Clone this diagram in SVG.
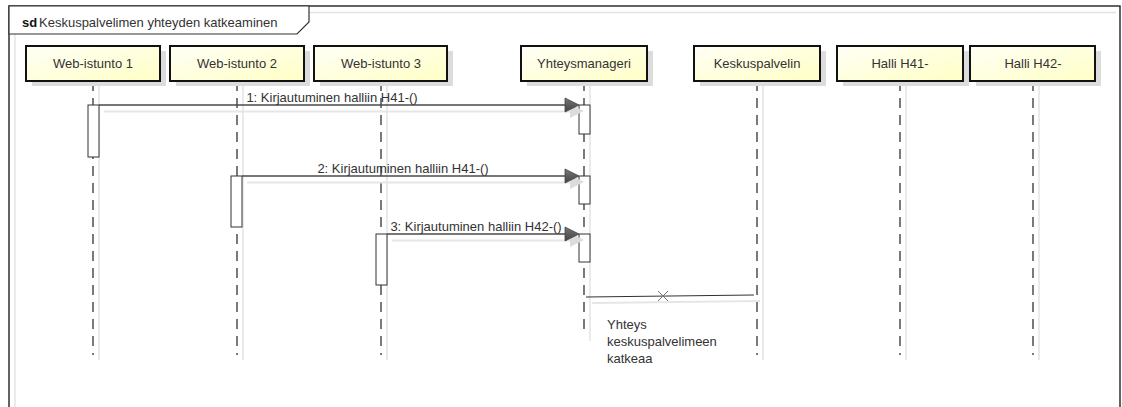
<svg xmlns="http://www.w3.org/2000/svg" width="1122" height="407" viewBox="0 0 1122 407">
  <style>
    text { font-family: "Liberation Sans", Arial, sans-serif; font-size: 13px; fill: #333; }
    .lbl { text-anchor: middle; }
    .box { fill: url(#boxFill); stroke: #111; stroke-width: 2; }
    .boxShadow { fill: #dcdcdc; }
    .life { stroke: #333; stroke-width: 1.3; stroke-dasharray: 10 7; fill: none; }
    .lifeShadow { stroke: #e4e4e4; stroke-width: 1.5; fill: none; }
    .act { fill: #fff; stroke: #333; stroke-width: 1; }
    .msg { stroke: #4a4a4a; stroke-width: 1.4; fill: none; }
    .msgShadow { stroke: #e6e6e6; stroke-width: 2; fill: none; }
    .head { fill: url(#headFill); stroke: #444; stroke-width: 0.8; }
    .headShadow { fill: #dcdcdc; }
  </style>
  <defs>
    <linearGradient id="boxFill" x1="0" y1="0" x2="1" y2="1">
      <stop offset="0" stop-color="#fffff6"/>
      <stop offset="1" stop-color="#ffffc6"/>
    </linearGradient>
    <linearGradient id="headFill" x1="0" y1="0" x2="0" y2="1">
      <stop offset="0" stop-color="#777"/>
      <stop offset="1" stop-color="#444"/>
    </linearGradient>
  </defs>

  <rect width="1122" height="407" fill="#fff"/>

  <!-- frame -->
  <g id="frame">
    <rect x="9" y="6" width="1111" height="420" fill="#fff" stroke="#222" stroke-width="1.4"/>
    <path d="M15 420 V12.5 H1116" fill="none" stroke="#e2e2e2" stroke-width="1.3"/>
    <path d="M9 6 H309 V22 L297 34 H9 Z" fill="#fff" stroke="#333" stroke-width="1.2"/>
    <text x="22" y="26.5"><tspan font-weight="bold" fill="#111">sd</tspan><tspan x="39">Keskuspalvelimen yhteyden katkeaminen</tspan></text>
  </g>

  <!-- lifelines -->
  <g id="lifelines">
    <path class="lifeShadow" d="M99 86 V360 M243 86 V360 M387 86 V360 M590 86 V341 M763 86 V360 M906 86 V360 M1039 86 V360"/>
    <path class="life" d="M93 81 V355 M237 81 V355 M381 81 V355 M584 81 V335 M757 81 V355 M900 81 V355 M1033 81 V355"/>
  </g>

  <!-- participants -->
  <g id="web-istunto-1">
    <rect class="boxShadow" x="32" y="51" width="134" height="35"/>
    <rect class="box" x="26" y="46" width="134" height="35"/>
    <text class="lbl" x="93" y="68">Web-istunto 1</text>
  </g>
  <g id="web-istunto-2">
    <rect class="boxShadow" x="176" y="51" width="134" height="35"/>
    <rect class="box" x="170" y="46" width="134" height="35"/>
    <text class="lbl" x="237" y="68">Web-istunto 2</text>
  </g>
  <g id="web-istunto-3">
    <rect class="boxShadow" x="320" y="51" width="133" height="35"/>
    <rect class="box" x="314" y="46" width="133" height="35"/>
    <text class="lbl" x="381" y="68">Web-istunto 3</text>
  </g>
  <g id="yhteysmanageri">
    <rect class="boxShadow" x="527" y="51" width="126" height="35"/>
    <rect class="box" x="521" y="46" width="126" height="35"/>
    <text class="lbl" x="584" y="68">Yhteysmanageri</text>
  </g>
  <g id="keskuspalvelin">
    <rect class="boxShadow" x="700" y="51" width="126" height="35"/>
    <rect class="box" x="694" y="46" width="126" height="35"/>
    <text class="lbl" x="757" y="68">Keskuspalvelin</text>
  </g>
  <g id="halli-h41">
    <rect class="boxShadow" x="843" y="51" width="126" height="35"/>
    <rect class="box" x="837" y="46" width="126" height="35"/>
    <text class="lbl" x="900" y="68">Halli H41-</text>
  </g>
  <g id="halli-h42">
    <rect class="boxShadow" x="976" y="51" width="125" height="35"/>
    <rect class="box" x="970" y="46" width="125" height="35"/>
    <text class="lbl" x="1033" y="68">Halli H42-</text>
  </g>

  <!-- activations -->
  <g id="activations">
    <rect class="act" x="88" y="105" width="11" height="52"/>
    <rect class="act" x="579" y="105" width="11" height="29"/>
    <rect class="act" x="231" y="176" width="11" height="51"/>
    <rect class="act" x="579" y="176" width="11" height="28"/>
    <rect class="act" x="376" y="234" width="11" height="51"/>
    <rect class="act" x="579" y="234" width="11" height="28"/>
  </g>

  <!-- messages -->
  <g id="connectors">
    <g id="msg1">
      <path class="msgShadow" d="M104 111.5 H571"/>
      <path class="headShadow" d="M570 104 L584 111 L570 118 Z"/>
      <path class="msg" d="M99 105 H566"/>
      <path class="head" d="M565 98 L579 105 L565 112 Z"/>
      <text class="lbl" x="332" y="102">1: Kirjautuminen halliin H41-()</text>
    </g>
    <g id="msg2">
      <path class="msgShadow" d="M247 182.5 H571"/>
      <path class="headShadow" d="M570 175 L584 182 L570 189 Z"/>
      <path class="msg" d="M242 176 H566"/>
      <path class="head" d="M565 169 L579 176 L565 183 Z"/>
      <text class="lbl" x="403" y="173">2: Kirjautuminen halliin H41-()</text>
    </g>
    <g id="msg3">
      <path class="msgShadow" d="M392 240.5 H571"/>
      <path class="headShadow" d="M570 233 L584 240 L570 247 Z"/>
      <path class="msg" d="M387 234 H566"/>
      <path class="head" d="M565 227 L579 234 L565 241 Z"/>
      <text class="lbl" x="476" y="231">3: Kirjautuminen halliin H42-()</text>
    </g>
    <g id="lost-connection">
      <path class="msgShadow" d="M592 303 L760 301"/>
      <path d="M586 297 L754 295" stroke="#333" stroke-width="1.2" fill="none"/>
      <path d="M658 291 L668 301 M668 291 L658 301" stroke="#777" stroke-width="1" fill="none"/>
    </g>
  </g>

  <!-- note -->
  <g id="note">
    <text x="607" y="329">Yhteys</text>
    <text x="607" y="346">keskuspalvelimeen</text>
    <text x="607" y="363">katkeaa</text>
  </g>
</svg>
